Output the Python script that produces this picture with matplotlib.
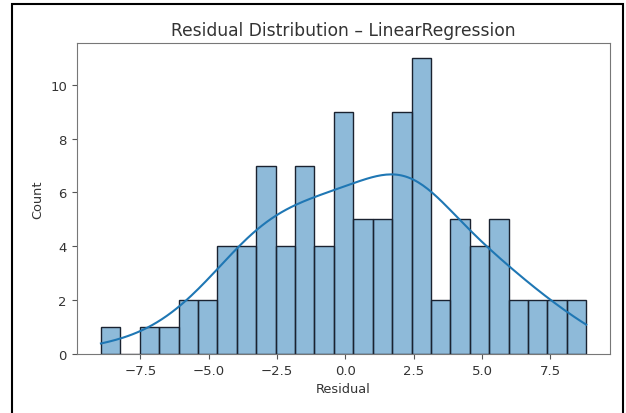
import numpy as np
import pandas as pd
import matplotlib
matplotlib.use('Agg')
import matplotlib.pyplot as plt
import seaborn as sns
from matplotlib.patches import Rectangle

residuals = [
    -8.94,
    -7.2,
    -6.4,
    -5.9, -5.6,
    -5.1, -4.8,
    -4.6, -4.4, -4.2, -4.0,
    -3.9, -3.7, -3.5, -3.3,
    -3.2, -3.1, -3.0, -2.9, -2.8, -2.7, -2.6,
    -2.5, -2.3, -2.1, -1.9,
    -1.8, -1.7, -1.6, -1.5, -1.4, -1.3, -1.2,
    -1.1, -0.9, -0.7, -0.5,
    -0.4, -0.3, -0.25, -0.15, -0.05, 0.05, 0.12, 0.2, 0.27,
    0.35, 0.5, 0.65, 0.8, 0.95,
    1.05, 1.2, 1.35, 1.5, 1.65,
    1.75, 1.85, 1.95, 2.0, 2.1, 2.2, 2.25, 2.3, 2.38,
    2.45, 2.5, 2.55, 2.6, 2.7, 2.75, 2.8, 2.9, 2.95, 3.0, 3.1,
    3.3, 3.6,
    3.9, 4.05, 4.2, 4.35, 4.5,
    4.65, 4.85, 5.0, 5.2,
    5.3, 5.45, 5.6, 5.75, 5.9,
    6.2, 6.5,
    6.9, 7.2,
    7.6, 7.9,
    8.4, 8.81,
]
n_bins = 25
model_name = 'LinearRegression'

txt = '#333333'
fig = plt.figure(figsize=(6.26, 4.14), dpi=100)
ax = fig.add_axes([0.1225, 0.1425, 0.8527, 0.7512])

sns.histplot(x=np.array(residuals), bins=n_bins, kde=True, ax=ax,
             edgecolor='#1a2230', linewidth=1.0)

ax.set_title('Residual Distribution \u2013 ' + model_name, fontsize=12.3, color=txt)
ax.set_xlabel('Residual', fontsize=9.3, color=txt)
ax.set_ylabel('Count', fontsize=9.3, color=txt)
ax.tick_params(labelsize=9.5, colors='#555555', labelcolor=txt)
for s in ax.spines.values():
    s.set_color('#777777')

# moldura da captura de tela
fig.patches.append(Rectangle((12 / 626, -0.05), 611 / 626, 1 - 5 / 414 + 0.05,
                             transform=fig.transFigure, fill=False,
                             edgecolor='black', linewidth=1.5))

fig.savefig('out.png', dpi=100)
